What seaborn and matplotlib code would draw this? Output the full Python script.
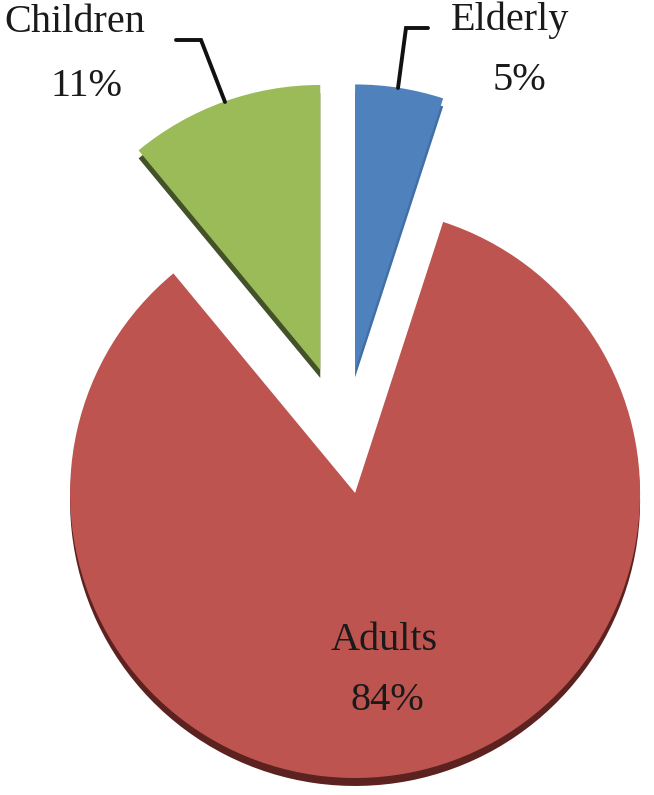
import matplotlib
matplotlib.use("Agg")
import matplotlib.pyplot as plt
import seaborn as sns

# data
groups = ["Elderly", "Adults", "Children"]
shares = [5, 84, 11]

# style
sns.set_theme(style="white")
plt.rcParams['font.family'] = ['Liberation Serif', 'DejaVu Serif']

colors = ["#4F81BD", "#BE5450", "#9BBB59"]
dark_colors = ["#416FA6", "#5C2220", "#44522A"]
explode = [0.24, 0.20, 0.25]

# pie centre in image pixels and radius in pixels, used to place text
CX, CY, R = 344.4, 437.0, 285.0


def px(x, y):
    return (x - CX) / R, (CY - y) / R


fig = plt.figure(figsize=(6.54, 7.95), dpi=100)
ax = fig.add_axes([0, 0, 1, 1])

# darker copy slightly lower gives the 3D edge
ax.pie(shares, colors=dark_colors, explode=explode, startangle=90,
       counterclock=False, center=(0, -0.028), radius=1,
       wedgeprops=dict(linewidth=0))
ax.pie(shares, colors=colors, explode=explode, startangle=90,
       counterclock=False, center=(0, 0), radius=1,
       wedgeprops=dict(linewidth=0))

txt = dict(fontsize=29, color="#1a1a1a", ha="center", va="center")

# Children label + leader
ax.text(*px(75, 23), "Children", **txt)
ax.text(*px(86, 86), f"{shares[2]}%", **txt)
ax.plot(*zip(px(176, 40), px(201, 40), px(225, 102)), color="#111111", lw=2.8,
        solid_joinstyle="miter")

# Elderly label + leader
ax.text(*px(510, 20), "Elderly", **txt)
ax.text(*px(519, 80), f"{shares[0]}%", **txt)
ax.plot(*zip(px(428, 28), px(406, 28), px(398, 88)), color="#111111", lw=2.8,
        solid_joinstyle="miter")

# Adults label inside the slice
ax.text(*px(384, 640), "Adults", **txt)
ax.text(*px(387, 700), f"{shares[1]}%", **txt)

x0, y0 = px(0, 0)
x1, y1 = px(654, 795)
ax.set_xlim(x0, x1)
ax.set_ylim(y1, y0)
ax.set_aspect("auto")
ax.axis("off")

fig.savefig("out.png", dpi=100, facecolor="white")
